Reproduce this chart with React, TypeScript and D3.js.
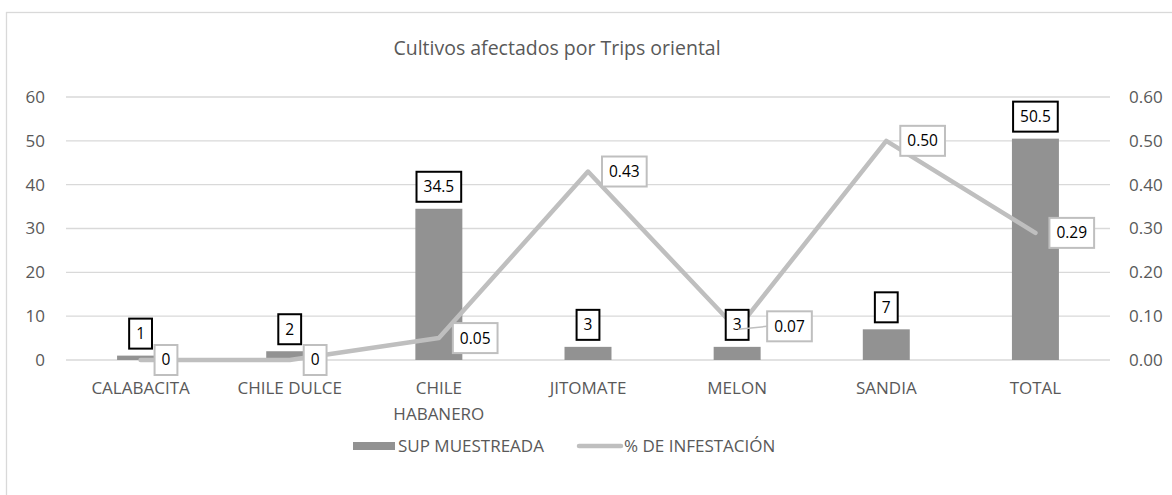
import React from "react";
import * as d3 from "d3";

const title = "Cultivos afectados por Trips oriental";
const categories = ["CALABACITA", "CHILE DULCE", "CHILE HABANERO", "JITOMATE", "MELON", "SANDIA", "TOTAL"];
const supMuestreada = [1, 2, 34.5, 3, 3, 7, 50.5];
const infestacion = [0, 0, 0.05, 0.43, 0.07, 0.5, 0.29];
const leftTicks = [0, 10, 20, 30, 40, 50, 60];
const rightTicks = [0, 0.1, 0.2, 0.3, 0.4, 0.5, 0.6];
const seriesNames = ["SUP MUESTREADA", "% DE INFESTACIÓN"];

const W = 1172;
const H = 495;
const FONT = "'Open Sans', 'Noto Sans', sans-serif";
const TXT = "#595959";
const GRID = "#d9d9d9";
const BAR = "#929292";
const LINE = "#bfbfbf";

function charW(s: string, size: number) {
  let w = 0;
  for (const c of s) w += c === "." ? 0.27 : 0.57;
  return w * size;
}

export default function App() {
  const left = 66, right = 1110, top = 97, bottom = 360;
  const x = d3.scaleBand<string>().domain(categories).range([left, right]).padding(0);
  const yL = d3.scaleLinear().domain([0, 60]).range([bottom, top]);
  const yR = d3.scaleLinear().domain([0, 0.6]).range([bottom, top]);
  const bw = x.bandwidth() * 0.315;
  const cx = (c: string) => (x(c) as number) + x.bandwidth() / 2;

  const line = d3
    .line<number>()
    .x((_, i) => cx(categories[i]))
    .y((d) => yR(d));

  const fs = 17;
  const lfs = 15.5;
  const boxH = 30;
  const legY = 446;

  return (
    <svg width={W} height={H} style={{ position: "absolute", left: 0, top: 0, background: "#fff" }} fontFamily={FONT}>
      <rect x={6.5} y={12.5} width={1300} height={600} fill="#fff" stroke={GRID} strokeWidth={1.3} />
      <text x={557} y={55} textAnchor="middle" fontSize={19.5} fill={TXT}>
        {title}
      </text>
      {leftTicks.map((t) => (
        <g key={"g" + t}>
          <line x1={left} x2={right} y1={yL(t)} y2={yL(t)} stroke={GRID} strokeWidth={1.3} />
          <text x={45} y={yL(t)} dy="0.35em" textAnchor="end" fontSize={fs} fill={TXT}>
            {t}
          </text>
        </g>
      ))}
      {rightTicks.map((t) => (
        <text key={"r" + t} x={1129} y={yR(t)} dy="0.35em" textAnchor="start" fontSize={fs} fill={TXT}>
          {t.toFixed(2)}
        </text>
      ))}
      {categories.map((c, i) => (
        <rect key={"b" + c} x={cx(c) - bw / 2} y={yL(supMuestreada[i])} width={bw} height={bottom - yL(supMuestreada[i])} fill={BAR} />
      ))}
      {categories.map((c) => {
        const lines = c.length > 12 ? c.split(" ") : [c];
        return (
          <text key={"x" + c} textAnchor="middle" fontSize={fs} fill={TXT}>
            {lines.map((l, j) => (
              <tspan key={j} x={cx(c)} y={394 + j * 26}>
                {l}
              </tspan>
            ))}
          </text>
        );
      })}
      <path d={line(infestacion) || ""} fill="none" stroke={LINE} strokeWidth={4.5} strokeLinejoin="round" strokeLinecap="round" />
      {categories.map((c, i) => {
        const s = String(supMuestreada[i]);
        const w = charW(s, lfs) + 14;
        const yb = yL(supMuestreada[i]) - 7;
        return (
          <g key={"bl" + c}>
            <rect x={cx(c) - w / 2} y={yb - boxH} width={w} height={boxH} fill="#fff" stroke="#000" strokeWidth={2} />
            <text x={cx(c)} y={yb - boxH / 2} dy="0.35em" textAnchor="middle" fontSize={lfs} fill="#000">
              {s}
            </text>
          </g>
        );
      })}
      {categories.map((c, i) => {
        const v = infestacion[i];
        const s = v === 0 ? "0" : v.toFixed(2);
        const w = charW(s, lfs) + 14;
        const px = cx(c);
        const py = yR(v);
        const shifted = c === "MELON";
        const bx = px + (shifted ? 30 : 14);
        const by = py - boxH / 2 - (shifted ? 3 : 0);
        return (
          <g key={"ll" + c}>
            {shifted && <line x1={px + 1} y1={py} x2={bx} y2={by + boxH / 2} stroke={LINE} strokeWidth={1.5} />}
            <rect x={bx} y={by} width={w} height={boxH} fill="#fff" stroke={LINE} strokeWidth={2} />
            <text x={bx + w / 2} y={by + boxH / 2} dy="0.35em" textAnchor="middle" fontSize={lfs} fill="#000">
              {s}
            </text>
          </g>
        );
      })}
      <g>
        <rect x={353} y={legY - 4} width={42} height={8} fill={BAR} />
        <text x={398} y={legY} dy="0.35em" fontSize={fs} fill={TXT}>
          {seriesNames[0]}
        </text>
        <line x1={579} x2={621} y1={legY} y2={legY} stroke={LINE} strokeWidth={4.5} strokeLinecap="round" />
        <text x={624} y={legY} dy="0.35em" fontSize={fs} fill={TXT}>
          {seriesNames[1]}
        </text>
      </g>
    </svg>
  );
}
